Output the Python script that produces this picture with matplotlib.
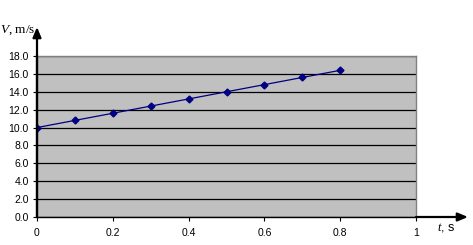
import matplotlib
matplotlib.use("Agg")
from matplotlib import pyplot as plt
from matplotlib.ticker import FixedLocator

t_values = [0.0, 0.1, 0.2, 0.3, 0.4, 0.5, 0.6, 0.7, 0.8]
v_values = [10.0, 10.8, 11.6, 12.4, 13.2, 14.0, 14.8, 15.6, 16.4]
x_ticks = [0, 0.2, 0.4, 0.6, 0.8, 1]
x_tick_labels = ["0", "0.2", "0.4", "0.6", "0.8", "1"]
y_ticks = [0, 2, 4, 6, 8, 10, 12, 14, 16, 18]

plt.rcParams['font.family'] = ['Liberation Sans', 'DejaVu Sans']
plt.rcParams['mathtext.fontset'] = 'custom'
plt.rcParams['mathtext.it'] = 'Liberation Serif:italic'
plt.rcParams['mathtext.rm'] = 'Liberation Serif'

fig = plt.figure(figsize=(4.73, 2.45), dpi=100)
W, H = 473, 245
ax = fig.add_axes([37 / W, 1 - 217 / H, (416 - 37) / W, (217 - 56) / H])
ax.set_facecolor('#c0c0c0')

ax.plot(t_values, v_values, color='#000080', linewidth=0.9,
        marker='D', markersize=3.5, zorder=3)

ax.set_xlim(0, 1)
ax.set_ylim(0, 18)
ax.xaxis.set_major_locator(FixedLocator(x_ticks))
ax.set_xticklabels(x_tick_labels)
ax.yaxis.set_major_locator(FixedLocator(y_ticks))
ax.set_yticklabels([f"{v:.1f}" for v in y_ticks])
ax.tick_params(labelsize=7.5, length=3, width=0.8, color='black', pad=3)
ax.tick_params(axis='x', pad=5)

ax.grid(axis='y', color='black', linewidth=0.9)
ax.set_axisbelow(True)

for side in ('top', 'right'):
    ax.spines[side].set_color('#808080')
    ax.spines[side].set_linewidth(1.0)
ax.spines['left'].set_linewidth(1.6)
ax.spines['bottom'].set_linewidth(1.0)

# axis arrows
ax.annotate('', xy=(37 / W, 1 - 27 / H), xytext=(37 / W, 1 - 217 / H),
            xycoords='figure fraction', textcoords='figure fraction',
            arrowprops=dict(arrowstyle='-|>,head_length=0.6,head_width=0.25',
                            color='black', linewidth=1.6, shrinkA=0, shrinkB=0))
ax.annotate('', xy=(468 / W, 1 - 217 / H), xytext=(416 / W, 1 - 217 / H),
            xycoords='figure fraction', textcoords='figure fraction',
            arrowprops=dict(arrowstyle='-|>,head_length=0.6,head_width=0.25',
                            color='black', linewidth=1.6, shrinkA=0, shrinkB=0))

fig.text(0 / W, 1 - 30 / H, "$V$, m/s", fontsize=9.5, va='center', ha='left',
         family='Liberation Serif')
fig.text(437 / W, 1 - 228 / H, "$t$, s", fontsize=9, va='center', ha='left')

fig.savefig("out.png", dpi=100)
